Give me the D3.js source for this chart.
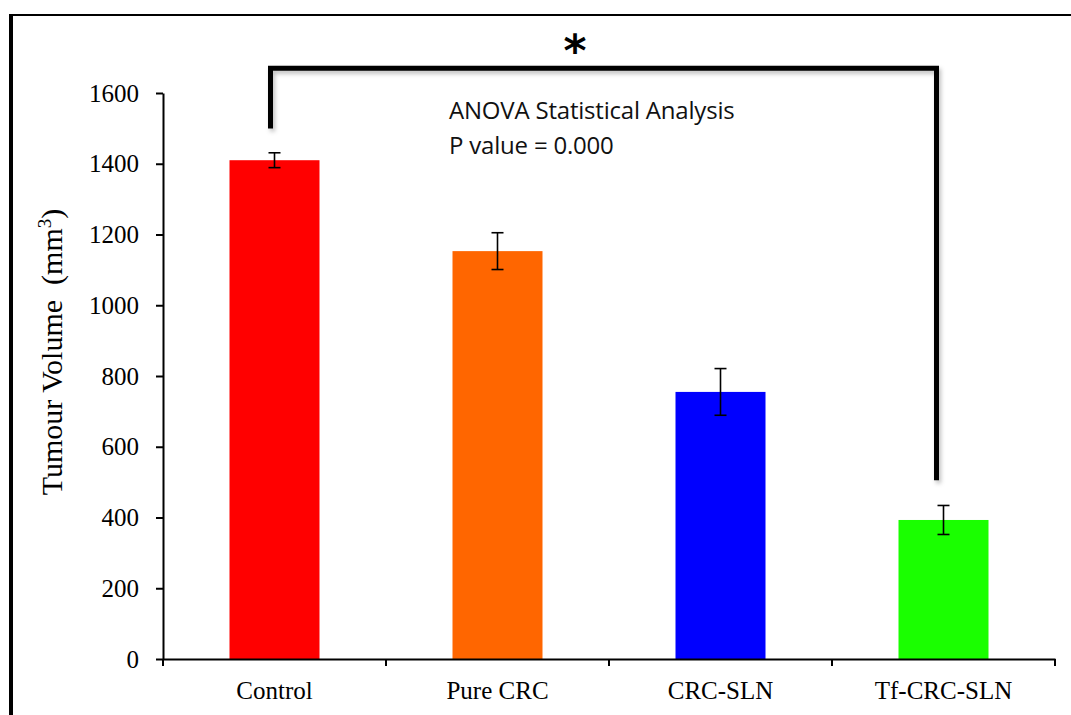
<!DOCTYPE html>
<html>
<head>
<meta charset="utf-8">
<script src="https://cdn.jsdelivr.net/npm/d3@7"></script>
<style>
  body { margin: 0; background: #fff; }
  svg { display: block; }
</style>
</head>
<body>
<svg id="svg" width="1071" height="715"></svg>
<script>
var groups = ['Control', 'Pure CRC', 'CRC-SLN', 'Tf-CRC-SLN'];
var volumes = [1410, 1153, 755, 393];
var errors = [21, 52, 66, 41];
var colors = ['#ff0000', '#ff6600', '#0000ff', '#1aff00'];
var yTicks = [0, 200, 400, 600, 800, 1000, 1200, 1400, 1600];
// significance bracket: from Control to Tf-CRC-SLN
var bracket = { from: 'Control', to: 'Tf-CRC-SLN', top: 1670, left: 1500, right: 505 };

var svg = d3.select('#svg');

// outer frame (left + top only)
svg.append('line').attr('x1', 11).attr('y1', 14).attr('x2', 11).attr('y2', 715)
    .attr('stroke', '#000').attr('stroke-width', 4);
svg.append('line').attr('x1', 9).attr('y1', 15).attr('x2', 1071).attr('y2', 15)
    .attr('stroke', '#000').attr('stroke-width', 2);

var x = d3.scaleBand().domain(groups).range([163, 1055]);
var y = d3.scaleLinear().domain([0, 1600]).range([659, 93]);

var data = groups.map(function(g, i) {
    return { name: g, val: volumes[i], err: errors[i], col: colors[i] };
});

// bars
svg.append('g').selectAll('rect').data(data).enter().append('rect')
    .attr('x', d => x(d.name) + x.bandwidth() / 2 - 45)
    .attr('width', 90)
    .attr('y', d => y(d.val))
    .attr('height', d => y(0) - y(d.val))
    .attr('fill', d => d.col);

// error bars
var eb = svg.append('g').attr('stroke', '#000').attr('stroke-width', 1.6);
data.forEach(function(d) {
    var cx = x(d.name) + x.bandwidth() / 2;
    eb.append('line').attr('x1', cx).attr('x2', cx)
        .attr('y1', y(d.val + d.err)).attr('y2', y(d.val - d.err));
    eb.append('line').attr('x1', cx - 6).attr('x2', cx + 6)
        .attr('y1', y(d.val + d.err)).attr('y2', y(d.val + d.err));
    eb.append('line').attr('x1', cx - 6).attr('x2', cx + 6)
        .attr('y1', y(d.val - d.err)).attr('y2', y(d.val - d.err));
});

// y axis
var yAxis = svg.append('g').attr('transform', 'translate(163,0)')
    .call(d3.axisLeft(y).tickValues(yTicks).tickFormat(d3.format('d'))
        .tickSize(7).tickPadding(17).tickSizeOuter(0));
yAxis.select('.domain').attr('stroke-width', 2);
yAxis.selectAll('.tick line').attr('stroke-width', 2);
yAxis.selectAll('text').attr('font-family', '"Liberation Serif", serif')
    .attr('font-size', 25).attr('fill', '#000');

// x axis
var xAxis = svg.append('g').attr('transform', 'translate(0,659)')
    .call(d3.axisBottom(x).tickSize(0).tickPadding(22));
xAxis.select('.domain').attr('stroke-width', 2);
xAxis.selectAll('text').attr('font-family', '"Liberation Serif", serif')
    .attr('font-size', 25).attr('fill', '#000');
// boundary ticks between categories
var bounds = groups.map(g => x(g)).concat([x.range()[1]]);
svg.append('g').selectAll('line').data(bounds).enter().append('line')
    .attr('x1', d => d).attr('x2', d => d)
    .attr('y1', 659).attr('y2', 666)
    .attr('stroke', '#000').attr('stroke-width', 2);

// y title
svg.append('text')
    .attr('transform', 'translate(62,352) rotate(-90)')
    .attr('text-anchor', 'middle')
    .attr('font-family', '"Liberation Serif", serif')
    .attr('font-size', 30)
    .html('Tumour Volume&#160;&#160;(mm<tspan dy="-11" font-size="19">3</tspan><tspan dy="11">)</tspan>');

// significance bracket
var defs = svg.append('defs');
var f = defs.append('filter').attr('id', 'sh').attr('x', '-20%').attr('y', '-20%')
    .attr('width', '140%').attr('height', '140%');
f.append('feDropShadow').attr('dx', 2).attr('dy', 3).attr('stdDeviation', 2)
    .attr('flood-color', '#000').attr('flood-opacity', 0.25);
var bx1 = x(bracket.from) + x.bandwidth() / 2 - 4;
var bx2 = x(bracket.to) + x.bandwidth() / 2 - 7;
svg.append('path')
    .attr('d', 'M' + bx1 + ',' + y(bracket.left) + 'V' + y(bracket.top) +
        'H' + bx2 + 'V' + y(bracket.right))
    .attr('fill', 'none').attr('stroke', '#000').attr('stroke-width', 5)
    .attr('stroke-linejoin', 'miter')
    .attr('filter', 'url(#sh)');
svg.append('text')
    .attr('x', 575).attr('y', 66)
    .attr('text-anchor', 'middle')
    .attr('font-family', '"DejaVu Sans", sans-serif')
    .attr('font-weight', 'bold')
    .attr('font-size', 44)
    .text('*');

// annotation
var ann = svg.append('text')
    .attr('font-family', '"Open Sans", sans-serif')
    .attr('font-size', 24)
    .attr('letter-spacing', -0.2)
    .attr('fill', '#111');
ann.append('tspan').attr('x', 449).attr('y', 119).text('ANOVA Statistical Analysis');
ann.append('tspan').attr('x', 449).attr('y', 154).text('P value = 0.000');
</script>
</body>
</html>
